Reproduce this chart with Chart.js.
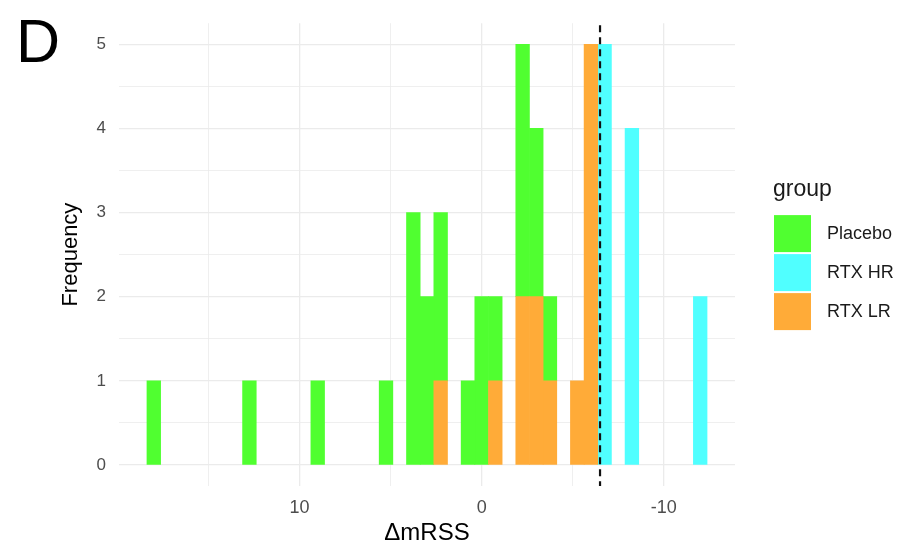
<!DOCTYPE html>
<html>
<head>
<meta charset="utf-8">
<script src="https://cdn.jsdelivr.net/npm/chart.js@4.4.1/dist/chart.umd.min.js"></script>
<style>
  html, body { margin: 0; padding: 0; background: #fff; }
  canvas { display: block; }
</style>
</head>
<body>
<canvas id="hist" width="908" height="543"></canvas>
<script>
// histogram bins (centres, width 0.75) and counts per group
const binCenters = [-12, -11.25, -10.5, -9.75, -9, -8.25, -7.5, -6.75, -6, -5.25,
    -4.5, -3.75, -3, -2.25, -1.5, -0.75, 0, 0.75, 1.5, 2.25,
    3, 3.75, 4.5, 5.25, 6, 6.75, 7.5, 8.25, 9, 9.75,
    10.5, 11.25, 12, 12.75, 13.5, 14.25, 15, 15.75, 16.5, 17.25, 18];
const placebo = [0, 0, 0, 0, 0, 0, 0, 0, 0, 0,
    0, 1, 2, 3, 0, 1, 2, 1, 0, 2,
    2, 3, 0, 1, 0, 0, 0, 0, 1, 0,
    0, 0, 0, 1, 0, 0, 0, 0, 0, 0, 1];
const rtxHR = [2, 0, 0, 0, 0, 4, 0, 5, 0, 0,
    0, 0, 0, 0, 0, 0, 0, 0, 0, 0,
    0, 0, 0, 0, 0, 0, 0, 0, 0, 0,
    0, 0, 0, 0, 0, 0, 0, 0, 0, 0, 0];
const rtxLR = [0, 0, 0, 0, 0, 0, 0, 0, 5, 1,
    0, 1, 2, 2, 0, 1, 0, 0, 0, 1,
    0, 0, 0, 0, 0, 0, 0, 0, 0, 0,
    0, 0, 0, 0, 0, 0, 0, 0, 0, 0, 0];
const cutoff = -6.5;

const xTicks = [15, 10, 5, 0, -5, -10];
const xLabels = ['', '10', '', '0', '', '-10'];
const yTicks = [0, 0.5, 1, 1.5, 2, 2.5, 3, 3.5, 4, 4.5, 5];
const yLabels = ['0', '', '1', '', '2', '', '3', '', '4', '', '5'];

const groups = ['Placebo', 'RTX HR', 'RTX LR'];
const colors = {'Placebo': '#50ff30', 'RTX HR': '#50ffff', 'RTX LR': '#ffab38'};

const FONT = "'Liberation Sans', Arial, sans-serif";

// empty bins are left out so no hairline is drawn for them
function points(counts) {
    return binCenters.map((x, i) => ({x: x, y: counts[i]})).filter(p => p.y > 0);
}

// vertical dashed line + legend + panel letter
const extras = {
    id: 'extras',
    afterDatasetsDraw(chart) {
        const ctx = chart.ctx;
        const area = chart.chartArea;
        const x = chart.scales.x.getPixelForValue(cutoff);
        ctx.save();
        ctx.strokeStyle = '#111';
        ctx.lineWidth = 2.2;
        ctx.setLineDash([7, 5]);
        ctx.beginPath();
        ctx.moveTo(x, area.top + 2);
        ctx.lineTo(x, area.bottom);
        ctx.stroke();
        ctx.restore();
    },
    afterDraw(chart) {
        const ctx = chart.ctx;
        const area = chart.chartArea;
        const mid = (area.top + area.bottom) / 2;
        const x0 = area.right + 39;
        const top = mid - 39.5;
        ctx.save();
        ctx.fillStyle = '#1a1a1a';
        ctx.font = '23px ' + FONT;
        ctx.textBaseline = 'alphabetic';
        ctx.fillText('group', x0 - 1, top - 19);
        groups.forEach((g, i) => {
            const y = top + i * 39;
            ctx.fillStyle = colors[g];
            ctx.fillRect(x0, y, 37, 37);
            ctx.fillStyle = '#1a1a1a';
            ctx.font = '18px ' + FONT;
            ctx.textBaseline = 'middle';
            ctx.fillText(g, x0 + 53, y + 19);
        });
        ctx.fillStyle = '#000';
        ctx.font = '61px ' + FONT;
        ctx.textBaseline = 'alphabetic';
        ctx.fillText('D', 16, 62);
        ctx.restore();
    }
};

new Chart(document.getElementById('hist'), {
    type: 'bar',
    data: {
        datasets: [
            {label: 'RTX LR', data: points(rtxLR), backgroundColor: colors['RTX LR']},
            {label: 'RTX HR', data: points(rtxHR), backgroundColor: colors['RTX HR']},
            {label: 'Placebo', data: points(placebo), backgroundColor: colors['Placebo']},
        ]
    },
    options: {
        responsive: false,
        animation: false,
        barPercentage: 1,
        categoryPercentage: 1,
        borderWidth: 0,
        layout: { padding: { top: 21, right: 173, left: 0, bottom: 0 } },
        plugins: {
            legend: { display: false },
            tooltip: { enabled: false }
        },
        scales: {
            x: {
                type: 'linear',
                stacked: true,
                reverse: true,
                offset: false,
                min: -13.91,
                max: 19.91,
                border: { display: false },
                grid: {
                    offset: false,
                    drawTicks: false,
                    color: '#ebebeb',
                    lineWidth: c => (c.tick && c.tick.value % 10 === 0) ? 1.3 : 0.8
                },
                afterBuildTicks: s => { s.ticks = xTicks.map(v => ({value: v})); },
                afterFit: s => { s.height = 57; },
                ticks: {
                    padding: 11,
                    color: '#4d4d4d',
                    font: { family: FONT, size: 18 },
                    callback: v => xLabels[xTicks.indexOf(v)]
                },
                title: {
                    display: true,
                    text: 'ΔmRSS',
                    color: '#000',
                    padding: 0,
                    font: { family: FONT, size: 24, lineHeight: 0.8 }
                }
            },
            y: {
                stacked: true,
                min: -0.25,
                max: 5.25,
                border: { display: false },
                grid: {
                    drawTicks: false,
                    color: '#ebebeb',
                    lineWidth: c => (c.tick && c.tick.value % 1 === 0) ? 1.3 : 0.8
                },
                afterBuildTicks: s => { s.ticks = yTicks.map(v => ({value: v})); },
                afterFit: s => { s.width = 119; },
                ticks: {
                    padding: 13,
                    color: '#4d4d4d',
                    font: { family: FONT, size: 17 },
                    callback: v => yLabels[yTicks.indexOf(v)]
                },
                title: {
                    display: true,
                    text: 'Frequency',
                    color: '#000',
                    padding: { top: 58, bottom: 0 },
                    font: { family: FONT, size: 22 }
                }
            }
        }
    },
    plugins: [extras]
});
</script>
</body>
</html>
